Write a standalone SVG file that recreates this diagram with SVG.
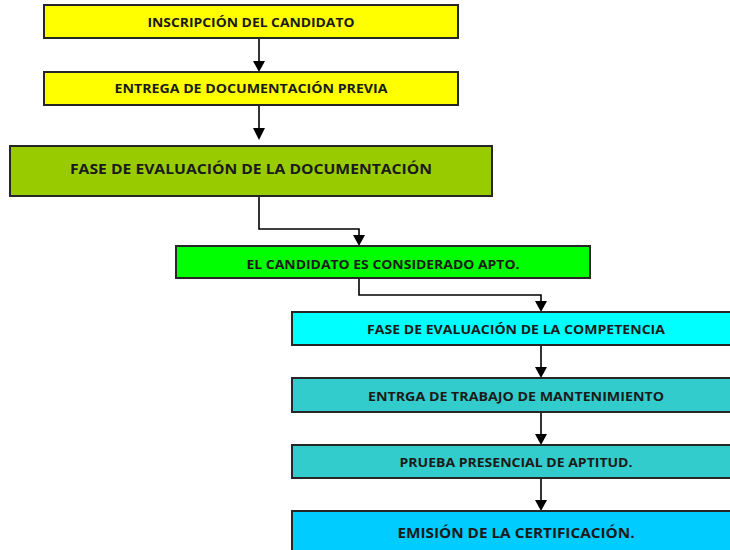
<svg xmlns="http://www.w3.org/2000/svg" width="730" height="550" viewBox="0 0 730 550">
<style>
.box{stroke:#262626;stroke-width:2}
.t{font-family:"Open Sans","Liberation Sans",sans-serif;font-weight:bold;fill:#1a1a1a;text-anchor:middle;font-size:12.5px}
.big{font-size:15px}
.c{fill:none;stroke:#000;stroke-width:1.6}
</style>
<rect width="730" height="550" fill="#fff"/>
<g id="connectors">
<path class="c" d="M259,39 V65"/><path d="M253,61 L265,61 L259,72 Z"/>
<path class="c" d="M259,105 V132"/><path d="M253,128 L265,128 L259,140 Z"/>
<path class="c" d="M259,196 V229 H359 V240"/><path d="M353,235 L365,235 L359,246 Z"/>
<path class="c" d="M359,278 V295 H541 V306"/><path d="M535,301 L547,301 L541,312 Z"/>
<path class="c" d="M541,345 V371"/><path d="M535,367 L547,367 L541,378 Z"/>
<path class="c" d="M541,412 V438"/><path d="M535,434 L547,434 L541,445 Z"/>
<path class="c" d="M541,478 V504"/><path d="M535,500 L547,500 L541,511 Z"/>
</g>
<g id="n1"><rect class="box" x="44" y="5" width="414" height="33" fill="#ffff00"/><text class="t" x="251" y="27" textLength="207" lengthAdjust="spacingAndGlyphs">INSCRIPCIÓN DEL CANDIDATO</text></g>
<g id="n2"><rect class="box" x="44" y="72" width="414" height="33" fill="#ffff00"/><text class="t" x="251" y="93" textLength="273" lengthAdjust="spacingAndGlyphs">ENTREGA DE DOCUMENTACIÓN PREVIA</text></g>
<g id="n3"><rect class="box" x="10" y="146" width="482" height="50" fill="#99cc00"/><text class="t big" x="251" y="174" textLength="362" lengthAdjust="spacingAndGlyphs">FASE DE EVALUACIÓN DE LA DOCUMENTACIÓN</text></g>
<g id="n4"><rect class="box" x="176" y="246" width="414" height="32" fill="#00ff00"/><text class="t" x="383" y="269" textLength="273" lengthAdjust="spacingAndGlyphs">EL CANDIDATO ES CONSIDERADO APTO.</text></g>
<g id="n5"><rect class="box" x="292" y="312" width="445" height="33" fill="#00ffff"/><text class="t" x="516" y="334" textLength="298" lengthAdjust="spacingAndGlyphs">FASE DE EVALUACIÓN DE LA COMPETENCIA</text></g>
<g id="n6"><rect class="box" x="292" y="378" width="445" height="34" fill="#33cccc"/><text class="t" x="516" y="401" textLength="296" lengthAdjust="spacingAndGlyphs">ENTRGA DE TRABAJO DE MANTENIMIENTO</text></g>
<g id="n7"><rect class="box" x="292" y="445" width="445" height="33" fill="#33cccc"/><text class="t" x="516" y="467" textLength="233" lengthAdjust="spacingAndGlyphs">PRUEBA PRESENCIAL DE APTITUD.</text></g>
<g id="n8"><rect class="box" x="292" y="511" width="445" height="45" fill="#00ccff"/><text class="t big" x="516" y="538" textLength="237" lengthAdjust="spacingAndGlyphs">EMISIÓN DE LA CERTIFICACIÓN.</text></g>
</svg>
